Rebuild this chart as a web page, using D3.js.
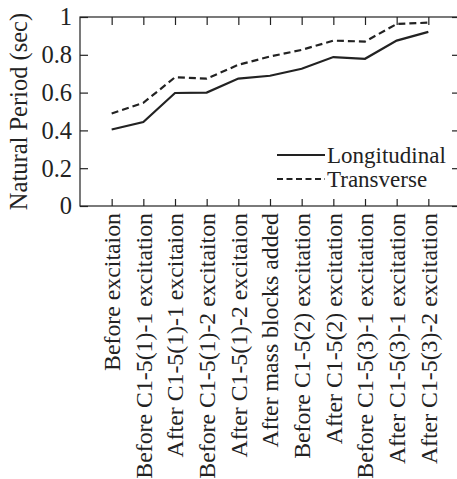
<!DOCTYPE html>
<html>
<head>
<meta charset="utf-8">
<script src="https://cdnjs.cloudflare.com/ajax/libs/d3/7.8.5/d3.min.js"></script>
<style>
  body { margin: 0; background: #fff; }
  text { font-family: "Liberation Serif", "Times New Roman", serif; fill: #222; }
</style>
</head>
<body>
<svg class="chart"></svg>
<script>
var stages = [
    "Before excitaion",
    "Before C1-5(1)-1 excitation",
    "After C1-5(1)-1 excitaion",
    "Before C1-5(1)-2 excitaiton",
    "After C1-5(1)-2 excitaion",
    "After mass blocks added",
    "Before C1-5(2) excitation",
    "After C1-5(2) excitation",
    "Before C1-5(3)-1 excitation",
    "After C1-5(3)-1 excitation",
    "After C1-5(3)-2 excitation"
];
var longitudinal = [0.405, 0.444, 0.598, 0.600, 0.674, 0.689, 0.726, 0.788, 0.779, 0.875, 0.921];
var transverse = [0.489, 0.546, 0.681, 0.674, 0.747, 0.791, 0.826, 0.875, 0.870, 0.963, 0.970];
var yTicks = [0, 0.2, 0.4, 0.6, 0.8, 1];

var width = 457, height = 479;
var margin = { top: 17, left: 80, right: -3, bottom: 273 };
var serif = "'Liberation Serif', 'Times New Roman', serif";

var svg = d3.select(".chart")
    .attr("width", width)
    .attr("height", height);

var x = d3.scalePoint()
    .domain(stages)
    .range([margin.left, width - margin.right])
    .padding(1);

var y = d3.scaleLinear()
    .domain([0, 1])
    .range([height - margin.bottom, margin.top]);

var ink = "#222";

// frame
svg.append("rect")
    .attr("x", margin.left)
    .attr("y", margin.top)
    .attr("width", width - margin.right - margin.left)
    .attr("height", y(0) - margin.top)
    .attr("fill", "none")
    .attr("stroke", ink)
    .attr("stroke-width", 1.2);

// left axis, ticks inside
var leftAxis = svg.append("g")
    .attr("transform", "translate(" + margin.left + ",0)")
    .call(d3.axisLeft(y).tickValues(yTicks).tickSize(-8).tickPadding(8)
        .tickFormat(function(d) { return d === 0 || d === 1 ? d3.format("d")(d) : d3.format(".1f")(d); }));
leftAxis.select(".domain").remove();
leftAxis.selectAll("line").attr("stroke", ink).attr("stroke-width", 1.2);
leftAxis.selectAll("text")
    .style("font-family", serif)
    .style("font-size", "24.5px")
    .attr("fill", ink);

// right axis ticks
var rightAxis = svg.append("g")
    .attr("transform", "translate(" + (width - margin.right) + ",0)")
    .call(d3.axisRight(y).tickValues(yTicks).tickSize(-8).tickFormat(""));
rightAxis.select(".domain").remove();
rightAxis.selectAll("line").attr("stroke", ink).attr("stroke-width", 1.2);

// top ticks
var topAxis = svg.append("g")
    .attr("transform", "translate(0," + margin.top + ")")
    .call(d3.axisTop(x).tickSize(-8).tickFormat(""));
topAxis.select(".domain").remove();
topAxis.selectAll("line").attr("stroke", ink).attr("stroke-width", 1.2);

// bottom axis with rotated labels
var bottomAxis = svg.append("g")
    .attr("transform", "translate(0," + y(0) + ")")
    .call(d3.axisBottom(x).tickSize(-7).tickPadding(0));
bottomAxis.select(".domain").remove();
bottomAxis.selectAll("line").attr("stroke", ink).attr("stroke-width", 1.2);
bottomAxis.selectAll("text")
    .style("font-family", serif)
    .style("font-size", "23.8px")
    .attr("fill", ink)
    .attr("transform", "rotate(-90)")
    .attr("x", -7)
    .attr("y", 0)
    .attr("dy", "0.33em")
    .style("text-anchor", "end");

// y title
svg.append("text")
    .attr("transform", "translate(27," + ((margin.top + y(0)) / 2) + ") rotate(-90)")
    .style("text-anchor", "middle")
    .style("font-family", serif)
    .style("font-size", "24.5px")
    .text("Natural Period (sec)");

var line = d3.line()
    .x(function(d, i) { return x(stages[i]); })
    .y(function(d) { return y(d); });

svg.append("path")
    .datum(longitudinal)
    .attr("d", line)
    .attr("fill", "none")
    .attr("stroke", ink)
    .attr("stroke-width", 2.2);

svg.append("path")
    .datum(transverse)
    .attr("d", line)
    .attr("fill", "none")
    .attr("stroke", ink)
    .attr("stroke-width", 2.2)
    .attr("stroke-dasharray", "7,4");

// legend
var legend = [
    { name: "Longitudinal", dash: null, y: 155 },
    { name: "Transverse", dash: "6,3.5", y: 179 }
];
legend.forEach(function(l) {
    svg.append("line")
        .attr("x1", 277).attr("x2", 325)
        .attr("y1", l.y).attr("y2", l.y)
        .attr("stroke", ink)
        .attr("stroke-width", 2)
        .attr("stroke-dasharray", l.dash);
    svg.append("text")
        .attr("x", 327)
        .attr("y", l.y)
        .attr("dy", "0.33em")
        .style("font-family", serif)
        .style("font-size", "23px")
        .text(l.name);
});
</script>
</body>
</html>
